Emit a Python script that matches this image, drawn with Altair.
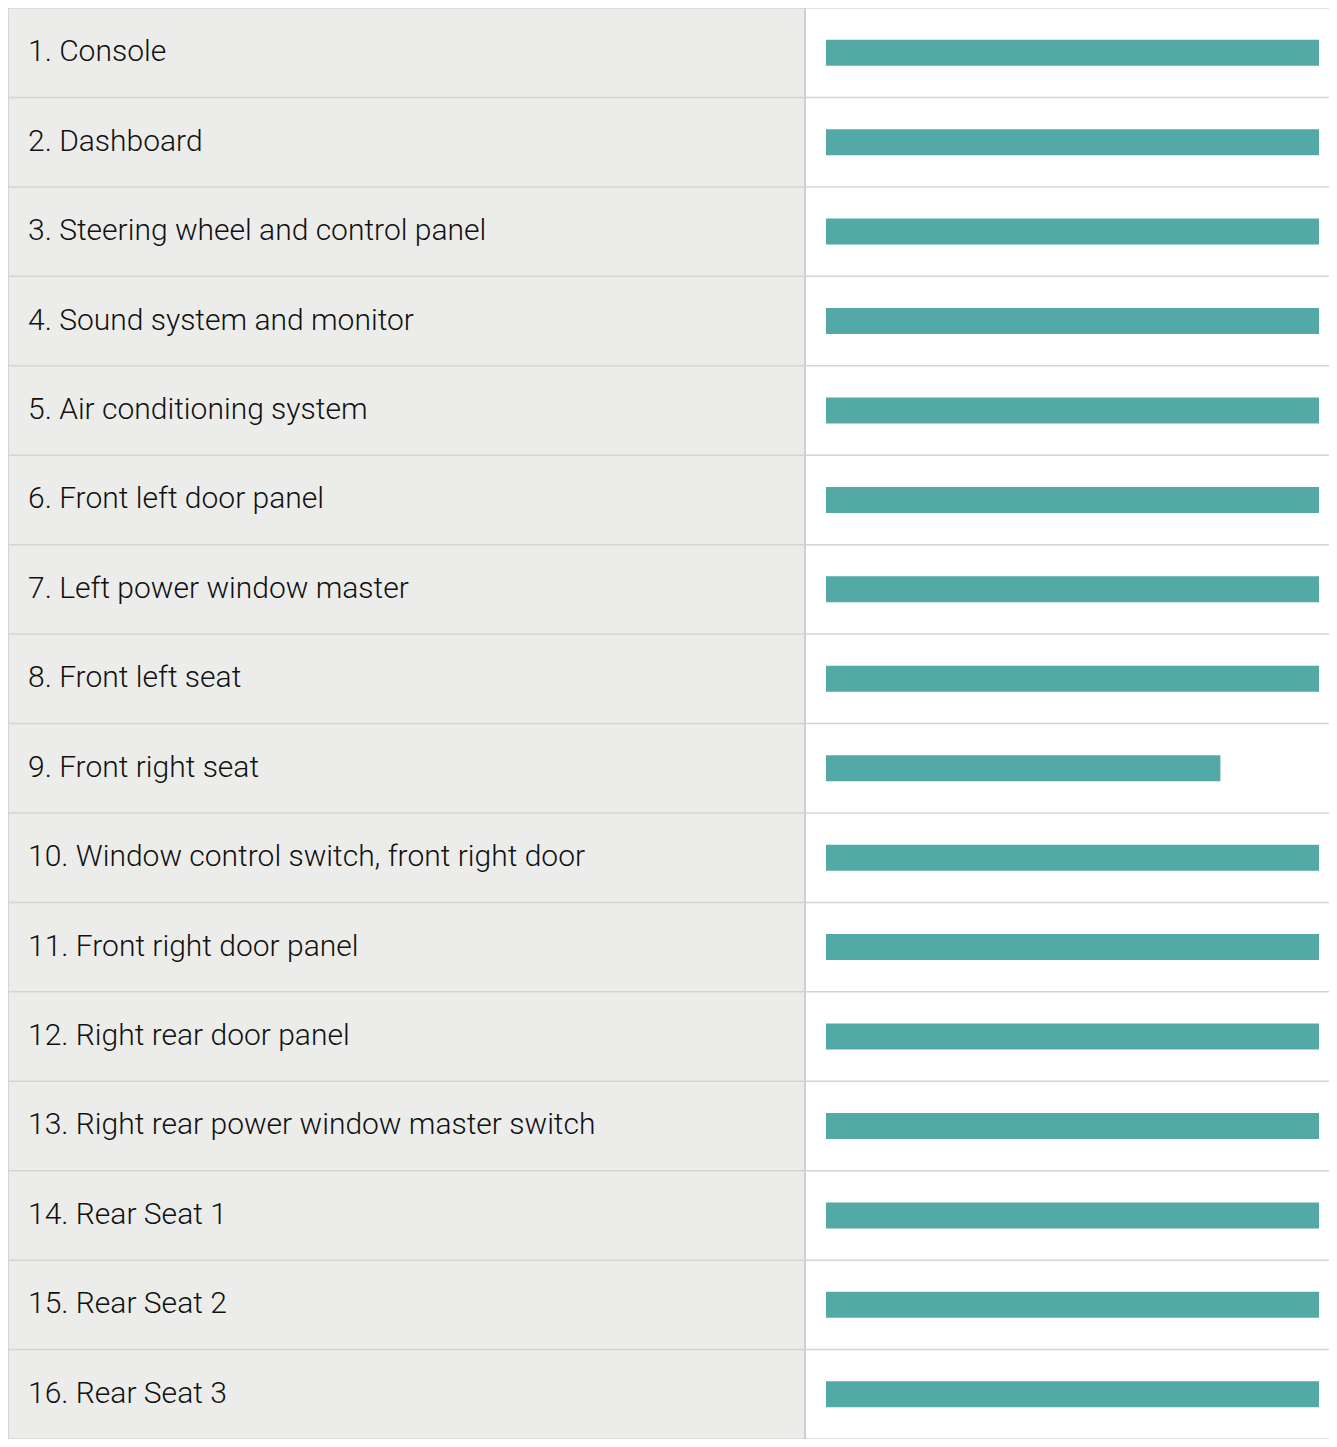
import altair as alt
import pandas as pd

labels = [
    "1. Console",
    "2. Dashboard",
    "3. Steering wheel and control panel",
    "4. Sound system and monitor",
    "5. Air conditioning system",
    "6. Front left door panel",
    "7. Left power window master",
    "8. Front left seat",
    "9. Front right seat",
    "10. Window control switch, front right door",
    "11. Front right door panel",
    "12. Right rear door panel",
    "13. Right rear power window master switch",
    "14. Rear Seat 1",
    "15. Rear Seat 2",
    "16. Rear Seat 3",
]
values = [100, 100, 100, 100, 100, 100, 100, 100, 80, 100, 100, 100, 100, 100, 100, 100]

df = pd.DataFrame({"label": labels, "value": values})

W = 1321
H = 1431
LEFT = 797
GRID = "#D4D4D4"

yscale = alt.Scale(domain=labels, paddingInner=0, paddingOuter=0)
ybase = alt.Y("label:N", scale=yscale, axis=None, sort=labels)

base = alt.Chart(df)

bg = base.mark_rect(color="#ECEDEB").encode(
    x=alt.value(0), x2=alt.value(LEFT), y=ybase
)

row_lines = base.mark_rule(color=GRID, strokeWidth=1.5).encode(
    y=alt.Y("label:N", scale=yscale, axis=None, sort=labels, bandPosition=0),
    x=alt.value(0), x2=alt.value(W),
)

bottom_line = alt.Chart(df.tail(1)).mark_rule(color=GRID, strokeWidth=1.5).encode(
    y=alt.Y("label:N", scale=yscale, axis=None, sort=labels, bandPosition=1),
    x=alt.value(0), x2=alt.value(W),
)

divider = base.mark_rule(color="#CFCFCF", strokeWidth=1.5).encode(
    x=alt.value(LEFT), y=alt.value(0), y2=alt.value(H)
)
left_border = base.mark_rule(color=GRID, strokeWidth=1.5).encode(
    x=alt.value(0), y=alt.value(0), y2=alt.value(H)
)

text = base.mark_text(
    align="left", baseline="alphabetic", font="Roboto", fontSize=30, fontWeight=300,
    color="#111111", dy=8.5,
).encode(
    x=alt.value(20), y=ybase, text="label:N"
)

bars = base.mark_bar(color="#53A9A6", size=26).encode(
    x=alt.X("value:Q", scale=alt.Scale(domain=[0, 100], range=[818, 1311]), axis=None),
    x2=alt.datum(0),
    y=ybase,
)

chart = alt.layer(bg, row_lines, bottom_line, divider, left_border, text, bars).properties(
    width=W, height=H, padding=0, autosize=alt.AutoSizeParams(type="none"),
    background="white",
).configure_view(stroke=None)

chart.save("out.html", embed_options={"renderer": "svg", "actions": False})
